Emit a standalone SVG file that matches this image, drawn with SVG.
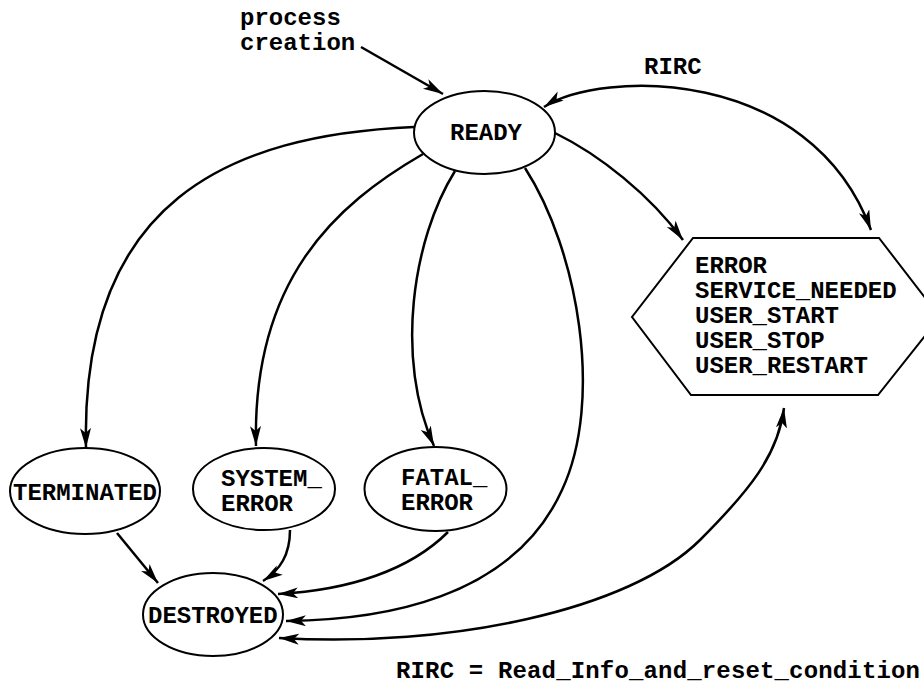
<svg xmlns="http://www.w3.org/2000/svg" width="924" height="696" viewBox="0 0 924 696">
  <style>
    .lbl { font-family: "Liberation Mono", "Courier New", monospace; font-weight: bold; font-size: 24px; fill: #000; }
    .node { fill: #fff; stroke: #000; stroke-width: 2; }
    .edge { fill: none; stroke: #000; stroke-width: 2.5; marker-end: url(#arrow); }
    .both { marker-start: url(#arrowStart); }
  </style>
  <defs>
    <marker id="arrow" markerUnits="userSpaceOnUse" markerWidth="22" markerHeight="12" refX="20" refY="5.5" orient="auto">
      <path d="M0,0 L20,5.5 L0,11 L5,5.5 z" fill="#000"/>
    </marker>
    <marker id="arrowStart" markerUnits="userSpaceOnUse" markerWidth="22" markerHeight="12" refX="20" refY="5.5" orient="auto-start-reverse">
      <path d="M0,0 L20,5.5 L0,11 L5,5.5 z" fill="#000"/>
    </marker>
  </defs>
  <rect width="924" height="696" fill="#fff"/>

  <!-- transitions -->
  <g id="connectors">
    <path class="edge" d="M361,47 L443,94"/>
    <path class="edge both" d="M544,107 C600,70 810,65 871,230"/>
    <path class="edge" d="M555,133 C600,155 650,195 683,240"/>
    <path class="edge" d="M414,127 C230,135 80,200 86,448"/>
    <path class="edge" d="M423,154 C335,205 252,280 256,446"/>
    <path class="edge" d="M455,171 C412,240 395,360 434,446"/>
    <path class="edge" d="M525,168 C578,250 604,400 562,490 C512,600 380,620 286,621"/>
    <path class="edge" d="M448,532 C410,570 350,590 278,594"/>
    <path class="edge both" d="M279,638 C450,648 630,610 700,540 C750,490 778,455 784,408"/>
    <path class="edge" d="M117,533 Q135,555 158,583"/>
    <path class="edge" d="M290,530 C290,555 280,570 263,581"/>
  </g>

  <g id="label-creation">
    <text class="lbl" x="240" y="25">process</text>
    <text class="lbl" x="240" y="50">creation</text>
  </g>
  <g id="label-rirc">
    <text class="lbl" x="644" y="74">RIRC</text>
  </g>

  <g id="ready">
    <ellipse class="node" cx="484.5" cy="132.5" rx="70.5" ry="41.5"/>
    <text class="lbl" x="450" y="140">READY</text>
  </g>

  <g id="conditions">
    <polygon class="node" points="693,238 879,238 940,317 878,395 691,395 632,317"/>
    <text class="lbl" x="695" y="273">ERROR</text>
    <text class="lbl" x="695" y="298">SERVICE_NEEDED</text>
    <text class="lbl" x="695" y="323">USER_START</text>
    <text class="lbl" x="695" y="348">USER_STOP</text>
    <text class="lbl" x="695" y="373">USER_RESTART</text>
  </g>

  <g id="terminated">
    <ellipse class="node" cx="85" cy="491" rx="75" ry="43"/>
    <text class="lbl" x="13" y="500">TERMINATED</text>
  </g>

  <g id="system-error">
    <ellipse class="node" cx="264" cy="489" rx="71" ry="41"/>
    <text class="lbl" x="221" y="486">SYSTEM_</text>
    <text class="lbl" x="221" y="511">ERROR</text>
  </g>

  <g id="fatal-error">
    <ellipse class="node" cx="435.5" cy="489" rx="71" ry="42"/>
    <text class="lbl" x="401" y="485">FATAL_</text>
    <text class="lbl" x="401" y="510">ERROR</text>
  </g>

  <g id="destroyed">
    <ellipse class="node" cx="213" cy="614.5" rx="70" ry="41.5"/>
    <text class="lbl" x="148" y="623">DESTROYED</text>
  </g>

  <g id="legend">
    <text class="lbl" x="396" y="678" textLength="524">RIRC = Read_Info_and_reset_condition</text>
  </g>
</svg>
